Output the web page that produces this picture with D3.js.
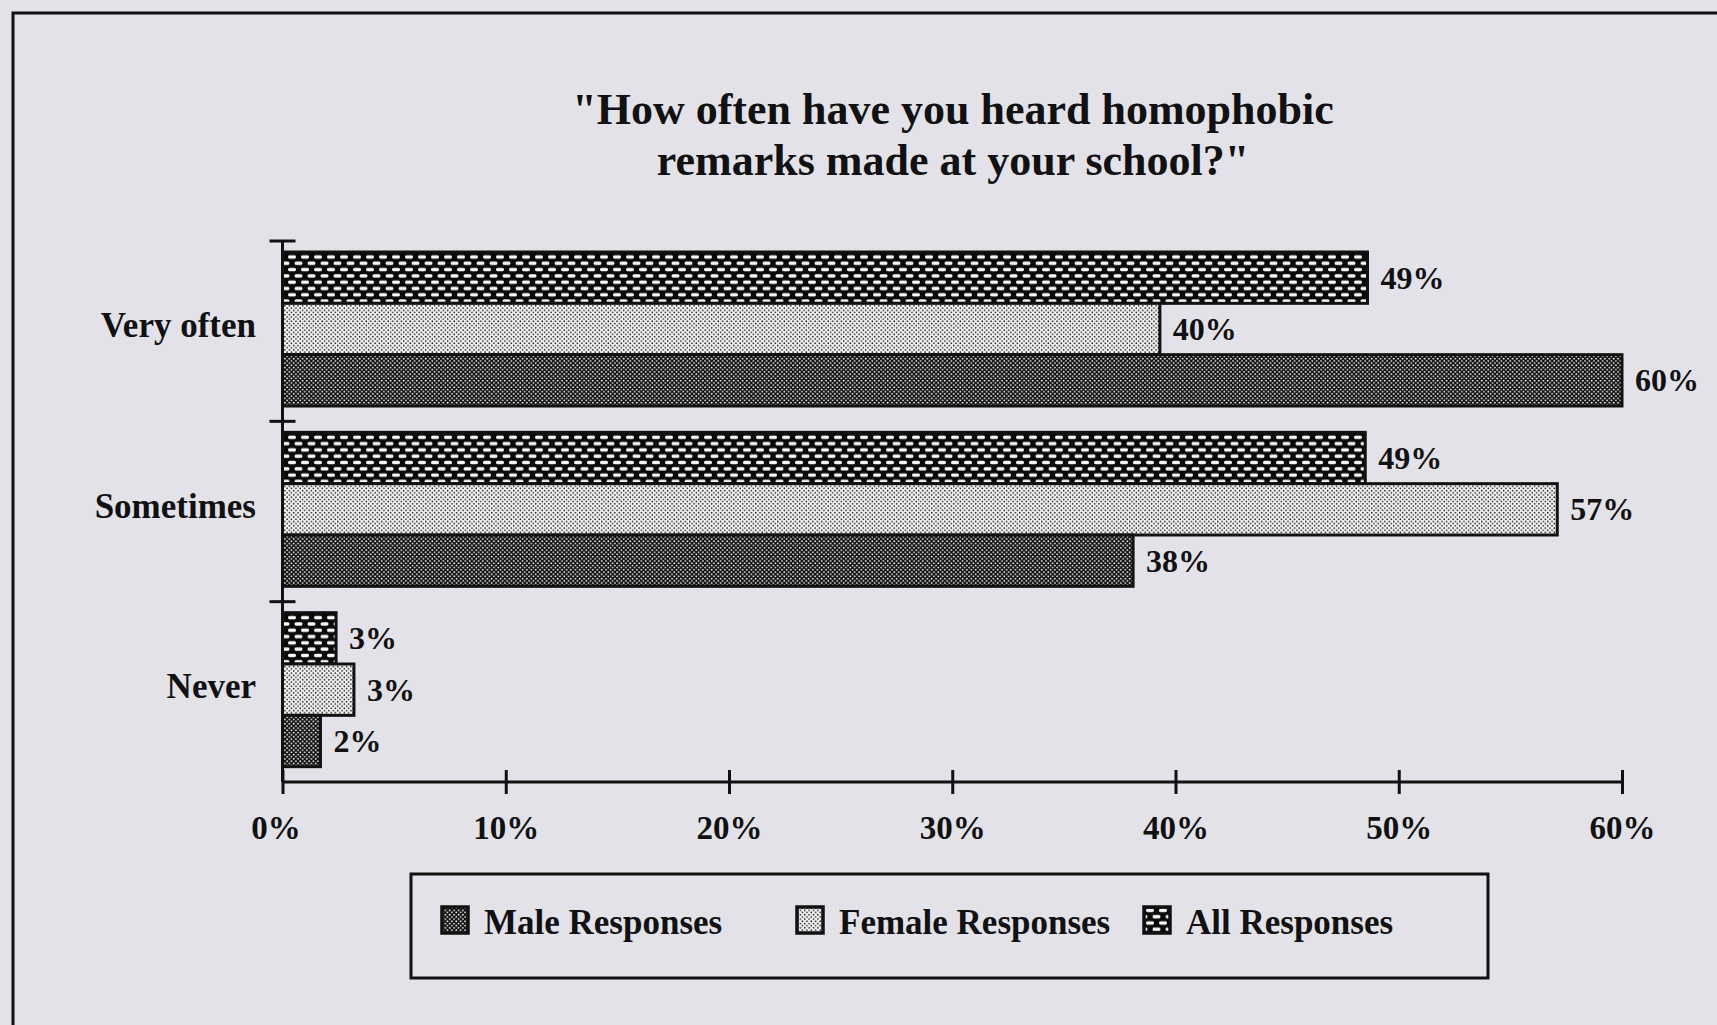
<!DOCTYPE html>
<html>
<head>
<meta charset="utf-8">
<script src="https://cdn.jsdelivr.net/npm/d3@7/dist/d3.min.js"></script>
<style>
  html, body { margin: 0; padding: 0; background: #e3e2e9; }
  svg { display: block; }
  text { font-family: "Liberation Serif", "Times New Roman", serif; font-weight: bold; fill: #111; }
</style>
</head>
<body>
<svg id="chart" width="1717" height="1025"></svg>
<script>
// ---- data ----
const categories = ["Very often", "Sometimes", "Never"];
const seriesOrder = ["All Responses", "Female Responses", "Male Responses"]; // top to bottom inside a group
const legendOrder = ["Male Responses", "Female Responses", "All Responses"];
const allValues = [48.6, 48.5, 2.4];
const femaleValues = [39.3, 57.1, 3.2];
const maleValues = [60.0, 38.1, 1.7];
const allLabels = ["49%", "49%", "3%"];
const femaleLabels = ["40%", "57%", "3%"];
const maleLabels = ["60%", "38%", "2%"];
const xTicks = [0, 10, 20, 30, 40, 50, 60];
const titleLines = ["\"How often have you heard homophobic", "remarks made at your school?\""];

const seriesValues = { "All Responses": allValues, "Female Responses": femaleValues, "Male Responses": maleValues };
const seriesLabels = { "All Responses": allLabels, "Female Responses": femaleLabels, "Male Responses": maleLabels };
const patternId = { "All Responses": "pAll", "Female Responses": "pFemale", "Male Responses": "pMale" };

const svg = d3.select("#chart");
const W = 1717, H = 1025;

// ---- patterns ----
const defs = svg.append("defs");
// All: black with white dashes (brick)
const pa = defs.append("pattern").attr("id", "pAll").attr("patternUnits", "userSpaceOnUse")
  .attr("width", 13).attr("height", 12.6);
pa.append("rect").attr("width", 13).attr("height", 12.6).attr("fill", "#0a0a0a");
pa.append("rect").attr("x", 2).attr("y", 1.6).attr("width", 8).attr("height", 3.4).attr("rx", 1.5).attr("fill", "#fafafa");
pa.append("rect").attr("x", 8.5).attr("y", 7.9).attr("width", 8).attr("height", 3.4).attr("rx", 1.5).attr("fill", "#fafafa");
pa.append("rect").attr("x", -4.5).attr("y", 7.9).attr("width", 8).attr("height", 3.4).attr("rx", 1.5).attr("fill", "#fafafa");
// Female: light with black dots
const pf = defs.append("pattern").attr("id", "pFemale").attr("patternUnits", "userSpaceOnUse")
  .attr("width", 4.4).attr("height", 4.4);
pf.append("rect").attr("width", 4.4).attr("height", 4.4).attr("fill", "#f6f6f6");
pf.append("circle").attr("cx", 1.1).attr("cy", 1.1).attr("r", 0.8).attr("fill", "#111");
pf.append("circle").attr("cx", 3.3).attr("cy", 3.3).attr("r", 0.8).attr("fill", "#111");
// Male: dense checker, darker
const pm = defs.append("pattern").attr("id", "pMale").attr("patternUnits", "userSpaceOnUse")
  .attr("width", 4.4).attr("height", 4.4);
pm.append("rect").attr("width", 4.4).attr("height", 4.4).attr("fill", "#0c0c0c");
pm.append("circle").attr("cx", 1.1).attr("cy", 1.1).attr("r", 0.95).attr("fill", "#f6f6f6");
pm.append("circle").attr("cx", 3.3).attr("cy", 3.3).attr("r", 0.95).attr("fill", "#f6f6f6");

// ---- frame ----
svg.append("rect").attr("x", 13).attr("y", 13).attr("width", W + 20).attr("height", H + 20)
  .attr("fill", "none").attr("stroke", "#111").attr("stroke-width", 3);

// ---- title ----
svg.append("g").selectAll("text").data(titleLines).join("text")
  .attr("x", 953).attr("y", (d, i) => 124 + i * 51)
  .attr("text-anchor", "middle").attr("font-size", 44).text(d => d);

// ---- scales ----
const x = d3.scaleLinear().domain([0, 60]).range([282.5, 1622]);
const y = d3.scaleBand().domain(categories).range([241, 782]).paddingInner(0).paddingOuter(0);
const ySub = d3.scaleBand().domain(seriesOrder).range([11, 11 + 154]);

// ---- y axis ----
const yAxisG = svg.append("g");
yAxisG.append("line").attr("x1", x(0)).attr("x2", x(0)).attr("y1", y.range()[0]).attr("y2", y.range()[1])
  .attr("stroke", "#111").attr("stroke-width", 3);
const yTickPos = categories.map(c => y(c));
yAxisG.selectAll("line.tick").data(yTickPos).join("line").attr("class", "tick")
  .attr("x1", x(0) - 13).attr("x2", x(0) + 13).attr("y1", d => d).attr("y2", d => d)
  .attr("stroke", "#111").attr("stroke-width", 3);
yAxisG.selectAll("text").data(categories).join("text")
  .attr("x", 256).attr("y", d => y(d) + y.bandwidth() / 2 + 6)
  .attr("text-anchor", "end").attr("font-size", 35).text(d => d);

// ---- x axis ----
const xAxisG = svg.append("g").attr("transform", `translate(0,${y.range()[1]})`)
  .call(d3.axisBottom(x).tickValues(xTicks).tickSize(12).tickFormat(d => d + "%"));
xAxisG.select(".domain").attr("stroke", "#111").attr("stroke-width", 3).attr("d", `M${x(0)},0H${x(60)}`);
xAxisG.selectAll(".tick line").attr("stroke", "#111").attr("stroke-width", 3).attr("y1", -12).attr("y2", 12);
xAxisG.selectAll(".tick text").attr("font-size", 33).attr("y", 57).attr("dy", 0)
  .attr("font-family", "Liberation Serif").attr("font-weight", "bold").attr("fill", "#111");
xAxisG.selectAll(".tick").filter(d => d === 0).select("text").attr("dx", -7);

// ---- bars ----
const groups = svg.append("g").selectAll("g").data(categories).join("g")
  .attr("transform", d => `translate(0,${y(d)})`);
groups.each(function (cat, ci) {
  const g = d3.select(this);
  seriesOrder.forEach(s => {
    const v = seriesValues[s][ci];
    g.append("rect")
      .attr("x", x(0)).attr("y", ySub(s))
      .attr("width", x(v) - x(0)).attr("height", ySub.bandwidth())
      .attr("fill", `url(#${patternId[s]})`).attr("stroke", "#111").attr("stroke-width", 3);
    g.append("text")
      .attr("x", x(v) + 13).attr("y", ySub(s) + ySub.bandwidth() / 2 + 11)
      .attr("font-size", 32).text(seriesLabels[s][ci]);
  });
});

// ---- legend ----
const legend = svg.append("g");
legend.append("rect").attr("x", 411).attr("y", 874).attr("width", 1077).attr("height", 104)
  .attr("fill", "none").attr("stroke", "#111").attr("stroke-width", 3);
const legendX = [442, 797, 1144];
const li = legend.selectAll("g.item").data(legendOrder).join("g").attr("class", "item")
  .attr("transform", (d, i) => `translate(${legendX[i]},907)`);
li.append("rect").attr("width", 26).attr("height", 26)
  .attr("fill", d => `url(#${patternId[d]})`).attr("stroke", "#111").attr("stroke-width", 3.5);
li.append("text").attr("x", 42).attr("y", 27).attr("font-size", 35).text(d => d);
</script>
</body>
</html>
